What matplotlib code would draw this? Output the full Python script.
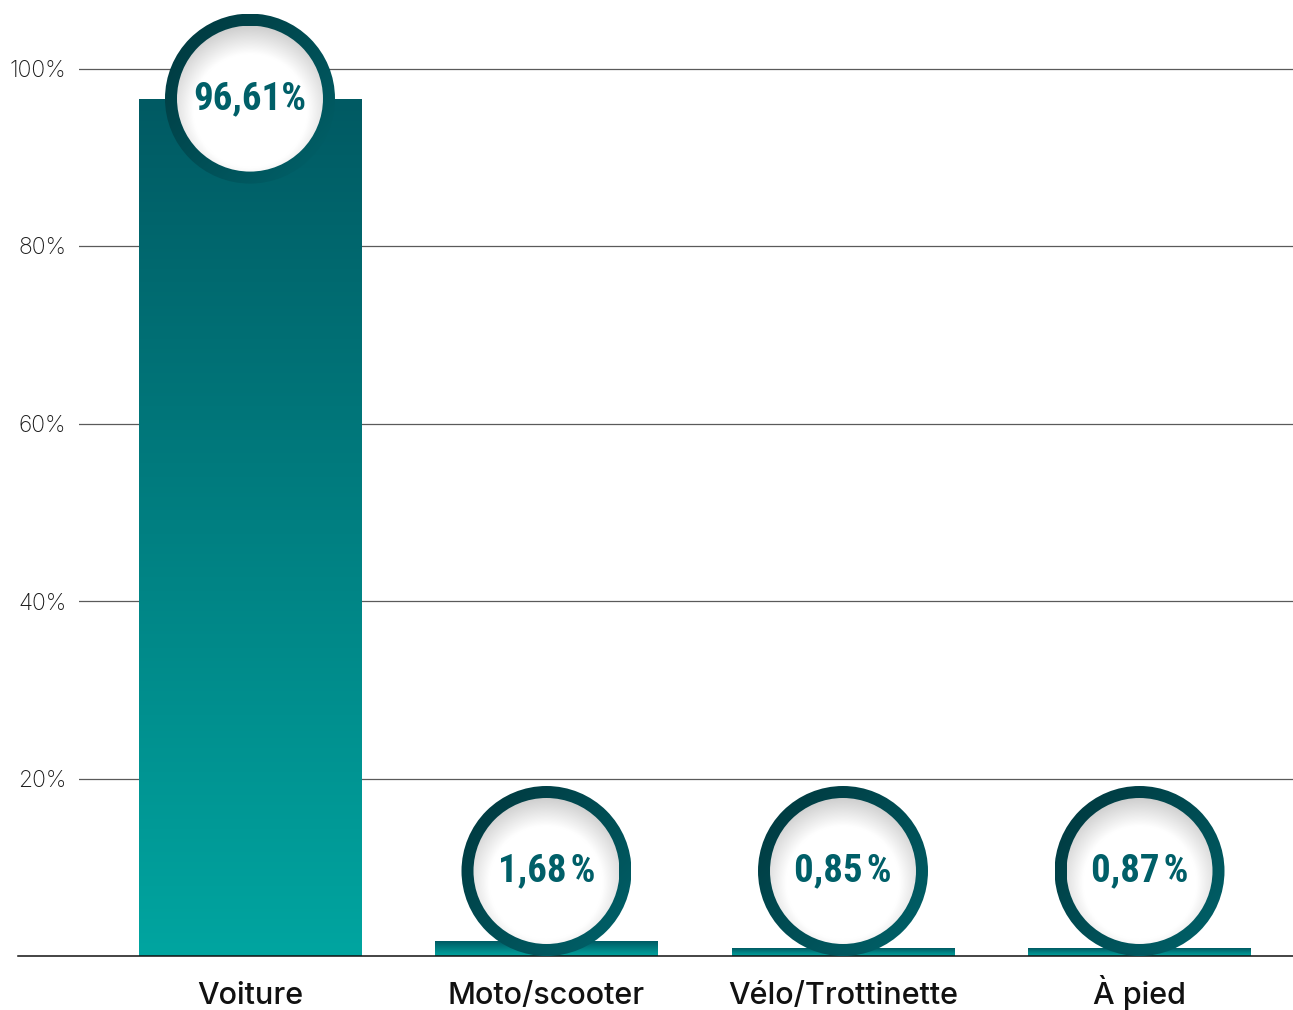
import numpy as np
import matplotlib
matplotlib.use("Agg")
import matplotlib.pyplot as plt
from matplotlib import font_manager
from matplotlib.colors import LinearSegmentedColormap
from matplotlib.patches import Circle
from matplotlib.transforms import ScaledTranslation

categories = ["Voiture", "Moto/scooter", "Vélo/Trottinette", "À pied"]
values = [96.61, 1.68, 0.85, 0.87]
value_labels = ["96,61%", "1,68\u200a%", "0,85\u200a%", "0,87\u200a%"]
yticks = [20, 40, 60, 80, 100]
ytick_labels = ["20%", "40%", "60%", "80%", "100%"]

BAR_TOP = "#005a63"
BAR_BOTTOM = "#00a5a0"
RING_DARK = "#00363c"
RING_LIGHT = "#00646c"
TEXT_TEAL = "#005f68"


def pick_font(names):
    have = {f.name for f in font_manager.fontManager.ttflist}
    for n in names:
        if n in have:
            return n
    return "DejaVu Sans"


NARROW = pick_font(["Liberation Sans Narrow", "Roboto Condensed", "Open Sans", "Roboto"])
LABEL_FONT = pick_font(["Inter", "Noto Sans", "Lato"])
TICK_FONT = pick_font(["Inter", "Noto Sans", "Lato"])

W, H, DPI = 1293, 1010, 100
fig = plt.figure(figsize=(W / DPI, H / DPI), dpi=DPI)
# axes spans from the gridline start (x=79) to the right edge, baseline to top
ax = fig.add_axes([79 / W, (H - 956) / H, (W - 79) / W, 956 / H])

px_per_unit_y = 8.875
YMAX = 956 / px_per_unit_y
XLIM = (-0.5767, 3.5177)

for s in ax.spines.values():
    s.set_visible(False)

for t in yticks:
    ax.axhline(t, color="#5a5a5a", lw=0.9, zorder=0)
ax.axhline(0, xmin=(18 - 79) / (W - 79), xmax=1, color="#111111", lw=1.1,
           clip_on=False, zorder=5)

ax.set_yticks(yticks)
ax.set_yticklabels(ytick_labels, fontsize=16.5, family=TICK_FONT,
                   fontweight="light", color="#1a1a1a")
ax.tick_params(axis="y", length=0, pad=9)
ax.set_xticks([])

x = np.arange(len(categories))
bar_cmap = LinearSegmentedColormap.from_list("bar", [BAR_BOTTOM, BAR_TOP])
grad = np.linspace(0, 1, 256).reshape(-1, 1)

bars = ax.bar(x, values, width=0.752, color="none", edgecolor="none", zorder=2)
for b in bars:
    x0, w, h = b.get_x(), b.get_width(), b.get_height()
    im = ax.imshow(grad, cmap=bar_cmap, origin="lower", aspect="auto",
                   extent=(x0, x0 + w, 0, h), zorder=2)
    im.set_clip_path(b)

# circular value badges
r_out = 0.85   # inches
r_in = 0.73
ring_cmap = LinearSegmentedColormap.from_list("ring", [RING_LIGHT, RING_DARK])
n = 300
u, v = np.meshgrid(np.linspace(-1, 1, n), np.linspace(-1, 1, n))
ring_grad = (v - u + 2) / 4  # dark toward top-left
d = np.sqrt(u ** 2 + (v + 0.16) ** 2)
shade = np.clip((d - 0.78) / 0.4, 0, 1)
inner_rgb = np.dstack([1 - 0.2 * shade] * 3)

r_data = r_out * DPI / px_per_unit_y
for xi, val, lab in zip(x, values, value_labels):
    cy = max(val, r_data)
    tr = fig.dpi_scale_trans + ScaledTranslation(xi, cy, ax.transData)
    outer = Circle((0, 0), r_out, transform=tr, facecolor="none", edgecolor="none")
    ax.add_patch(outer)
    im = ax.imshow(ring_grad, cmap=ring_cmap, origin="lower",
                   extent=(-r_out, r_out, -r_out, r_out), transform=tr, zorder=6)
    im.set_clip_path(outer)
    inner = Circle((0, 0), r_in, transform=tr, facecolor="none", edgecolor="none")
    ax.add_patch(inner)
    im2 = ax.imshow(inner_rgb, origin="lower",
                    extent=(-r_in, r_in, -r_in, r_in), transform=tr, zorder=7)
    im2.set_clip_path(inner)
    ax.text(xi, cy, lab, ha="center", va="center", fontsize=28,
            fontweight="bold", family=[NARROW, "DejaVu Sans"],
            color=TEXT_TEAL, zorder=8)

ax.set_xlim(*XLIM)
ax.set_ylim(0, YMAX)

for xi, cat in zip(x, categories):
    ax.annotate(cat, xy=(xi, 0), xytext=(0, -48 * 0.72), textcoords="offset points",
                ha="center", va="baseline", fontsize=22, fontweight="medium",
                family=LABEL_FONT, color="#111111", annotation_clip=False)

fig.savefig("out.png", dpi=DPI)
